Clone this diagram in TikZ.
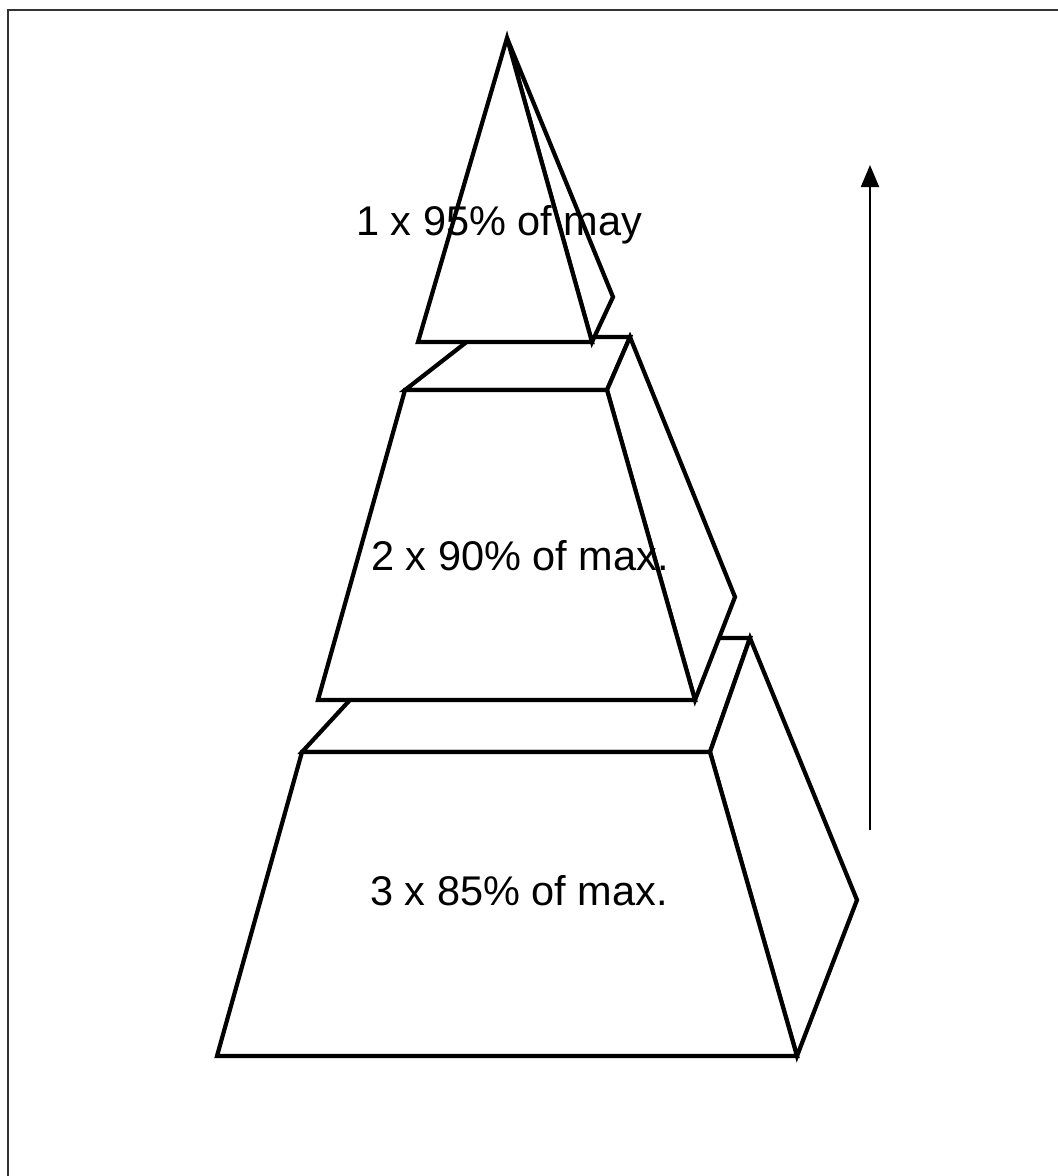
\documentclass[tikz,border=0pt]{standalone}
\usepackage{fontspec}
\setmainfont{Liberation Sans}
\usepackage{tikz}
\usetikzlibrary{arrows.meta}

\begin{document}
\begin{tikzpicture}[x=1pt,y=-1pt,
  font=\fontsize{41.5}{47}\selectfont,
  face/.style={draw=black,fill=white,line width=4.2pt,line join=miter},
  lbl/.style={anchor=base west,inner sep=0pt},
  frm/.style={draw=black!80,line width=2pt},
  ar/.style={-{Triangle[length=22pt,width=18pt]},line width=2pt}]

\useasboundingbox (0,0) rectangle (1058,1176);
\draw[frm] (8,1176) -- (8,10) -- (1058,10);

\draw[face] (302,752) -- (407,638) -- (750,638) -- (710,752) -- cycle;
\draw[face] (710,752) -- (750,638) -- (857,900) -- (797,1056) -- cycle;
\draw[face] (217,1056) -- (797,1056) -- (710,752) -- (302,752) -- cycle;

\draw[face] (405,390) -- (473,337) -- (630,337) -- (607,390) -- cycle;
\draw[face] (607,390) -- (630,337) -- (735,597) -- (695,700) -- cycle;
\draw[face] (318,700) -- (695,700) -- (607,390) -- (405,390) -- cycle;

\draw[face] (507,38) -- (613,297) -- (592,342) -- cycle;
\draw[face] (507,38) -- (592,342) -- (418,342) -- cycle;

\node[lbl] (top) at (356,235) {1 x 95\% of may};
\node[lbl] (mid) at (371,570) {2 x 90\% of max.};
\node[lbl] (bot) at (370,905) {3 x 85\% of max.};

\coordinate (lo) at (870,830);
\coordinate (hi) at (870,165);
\draw[ar] (lo) -- (hi);
\end{tikzpicture}
\end{document}
